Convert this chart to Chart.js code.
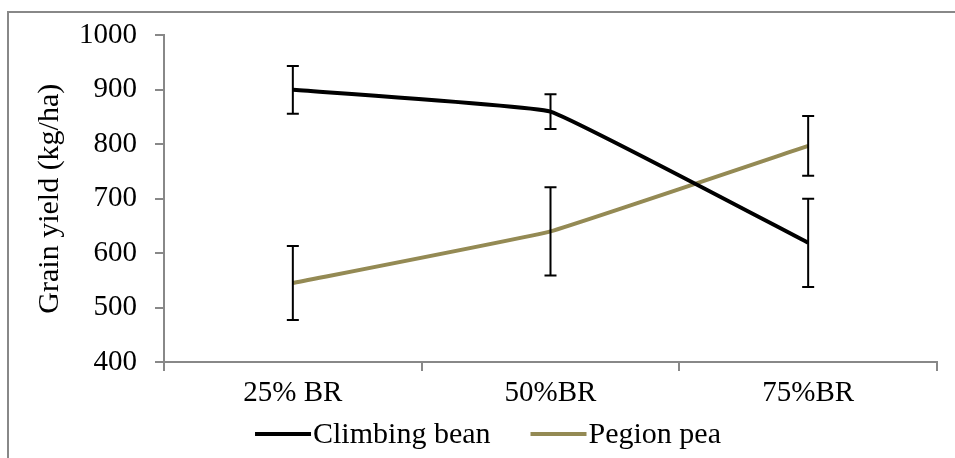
<!DOCTYPE html>
<html>
<head>
<meta charset="utf-8">
<title>Grain yield</title>
<script src="https://cdn.jsdelivr.net/npm/chart.js@4.4.1/dist/chart.umd.min.js"></script>
<style>
    html, body { margin: 0; padding: 0; background: #fff; }
    #wrap { width: 955px; height: 458px; position: relative; }
</style>
</head>
<body>
<div id="wrap"><canvas id="chart"></canvas></div>
<script>
// ============================================
// Data
// ============================================
const categories = ['25% BR', '50%BR', '75%BR'];
const seriesNames = ['Climbing bean', 'Pegion pea'];
const beanYield = [900, 860, 619];
const beanError = [44, 32, 81];
const peaYield = [545, 640, 797];
const peaError = [68, 81, 55];
const yTicks = [400, 500, 600, 700, 800, 900, 1000];

const FONT = '"Liberation Serif", "Times New Roman", serif';
const AXIS_GREY = '#888888';

// ============================================
// Error bars (drawn through the y scale)
// ============================================
const errorBars = {
    id: 'errorBars',
    afterDatasetsDraw(chart) {
        const ctx = chart.ctx;
        const y = chart.scales.y;
        ctx.save();
        ctx.strokeStyle = '#000';
        ctx.lineWidth = 2;
        chart.data.datasets.forEach((ds, i) => {
            const meta = chart.getDatasetMeta(i);
            meta.data.forEach((pt, j) => {
                const err = ds.errors[j];
                const top = y.getPixelForValue(ds.data[j] + err);
                const bot = y.getPixelForValue(ds.data[j] - err);
                ctx.beginPath();
                ctx.moveTo(pt.x, top); ctx.lineTo(pt.x, bot);
                ctx.moveTo(pt.x - 6, top); ctx.lineTo(pt.x + 6, top);
                ctx.moveTo(pt.x - 6, bot); ctx.lineTo(pt.x + 6, bot);
                ctx.stroke();
            });
        });
        ctx.restore();
    }
};

// ============================================
// Frame and legend
// ============================================
const frameAndLegend = {
    id: 'frameAndLegend',
    beforeDraw(chart) {
        const ctx = chart.ctx;
        ctx.save();
        ctx.strokeStyle = AXIS_GREY;
        ctx.lineWidth = 2;
        ctx.beginPath();
        ctx.moveTo(8, chart.height);
        ctx.lineTo(8, 12);
        ctx.lineTo(chart.width, 12);
        ctx.stroke();
        ctx.restore();
    },
    afterDraw(chart) {
        const ctx = chart.ctx;
        const sample = 56, gapText = 2, gapItem = 40, cy = 434;
        ctx.save();
        ctx.font = '30px ' + FONT;
        ctx.textBaseline = 'middle';
        const items = chart.data.datasets.map(ds => ({
            label: ds.label, color: ds.borderColor,
            w: sample + gapText + ctx.measureText(ds.label).width
        }));
        const total = items.reduce((a, it) => a + it.w, 0) + gapItem * (items.length - 1);
        let x = 488 - total / 2;
        items.forEach(it => {
            ctx.strokeStyle = it.color;
            ctx.lineWidth = 4;
            ctx.beginPath();
            ctx.moveTo(x, cy); ctx.lineTo(x + sample, cy);
            ctx.stroke();
            ctx.fillStyle = '#000';
            ctx.fillText(it.label, x + sample + gapText, cy + 1);
            x += it.w + gapItem;
        });
        ctx.restore();
    }
};

new Chart(document.getElementById('chart'), {
    type: 'line',
    data: {
        labels: categories,
        datasets: [{
            label: seriesNames[0],
            data: beanYield,
            errors: beanError,
            borderColor: '#000000',
            borderWidth: 4,
            tension: 0.08,
            pointRadius: 0
        }, {
            label: seriesNames[1],
            data: peaYield,
            errors: peaError,
            borderColor: '#948A54',
            borderWidth: 4,
            tension: 0.08,
            pointRadius: 0
        }]
    },
    options: {
        responsive: true,
        maintainAspectRatio: false,
        animation: false,
        layout: { padding: { left: 8, right: 18, top: 34, bottom: 0 } },
        plugins: {
            legend: { display: false },
            tooltip: { enabled: false }
        },
        scales: {
            x: {
                offset: true,
                grid: {
                    offset: true,
                    drawOnChartArea: false,
                    color: AXIS_GREY,
                    lineWidth: 2,
                    tickLength: 9
                },
                border: { color: AXIS_GREY, width: 2 },
                ticks: {
                    color: '#000',
                    padding: 5,
                    maxRotation: 0,
                    font: { family: FONT, size: 29 }
                },
                afterFit(s) { s.height = 96; }
            },
            y: {
                min: 400,
                max: 1000,
                afterBuildTicks(s) { s.ticks = yTicks.map(v => ({ value: v })); },
                grid: {
                    drawOnChartArea: false,
                    color: AXIS_GREY,
                    lineWidth: 2,
                    tickLength: 9
                },
                border: { color: AXIS_GREY, width: 2 },
                ticks: {
                    color: '#000',
                    padding: 18,
                    font: { family: FONT, size: 29 },
                    callback: v => String(v)
                },
                title: {
                    display: true,
                    text: 'Grain yield (kg/ha)',
                    color: '#000',
                    padding: { top: 24, bottom: 0 },
                    font: { family: FONT, size: 30 }
                },
                afterFit(s) { s.width = 156; }
            }
        }
    },
    plugins: [errorBars, frameAndLegend]
});
</script>
</body>
</html>
